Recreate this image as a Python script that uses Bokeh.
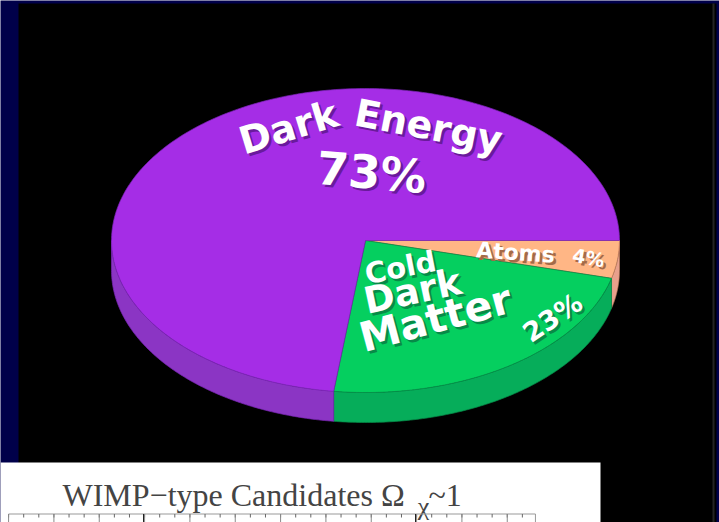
import numpy as np
from bokeh.core.properties import value
from bokeh.embed import file_html
from bokeh.models import Range1d
from bokeh.plotting import figure
from bokeh.resources import INLINE

# Composition of the universe, in percent, clockwise from the right-hand edge
slice_names = ["Atoms", "Cold Dark Matter", "Dark Energy"]
slice_shares = [4, 23, 73]
top_colors = ["#ffb685", "#05cf5f", "#a52de6"]
side_colors = ["#e8a08c", "#06ad5a", "#8b35c4"]
edge_colors = ["#b97a5c", "#068a48", "#7a25b4"]

# Logarithmic strip along the bottom panel: decades, and their subdivisions
major_ticks = [0, 1]
long_tick_step = 1 / 6
short_tick_step = 1 / 18
axis_start, axis_end = -0.496, 1.441

title_main = "WIMP\u2212type Candidates \u03a9"
title_sub = "\u03c7"
title_tail = "~1"

W, H = 719, 522
CX, CY, RX, RY, DEPTH = 365, 240, 254, 152, 30

p = figure(width=W, height=H, x_range=Range1d(0, W), y_range=Range1d(H, 0),
           output_backend="svg", toolbar_location=None, min_border=0,
           background_fill_color="#00004a", border_fill_color="#00004a",
           outline_line_color=None, x_axis_location=None, y_axis_location=None)
p.grid.visible = False

# Black slide area and its thin right-hand rule
p.quad(left=18, right=716, top=3, bottom=H, color="#000000", line_color=None)
p.quad(left=712, right=714, top=3, bottom=H, color="#242424", line_color=None)


def rim(a0, a1, n=120, dy=0.0):
    t = np.radians(np.linspace(a0, a1, n))
    return CX + RX * np.cos(t), CY + RY * np.sin(t) + dy


edges = np.concatenate([[0], np.cumsum(slice_shares)]) * 3.6

# Visible side wall of each slice (only the front half of the disc shows)
for i in range(len(slice_shares)):
    a0, a1 = edges[i], min(edges[i + 1], 180)
    if a0 >= 180:
        continue
    xt, yt = rim(a0, a1)
    xb, yb = rim(a0, a1, dy=DEPTH)
    p.patch(np.concatenate([xt, xb[::-1]]), np.concatenate([yt, yb[::-1]]),
            fill_color=side_colors[i], line_color=edge_colors[i], line_width=0.7)

# Top face of each slice
for i in range(len(slice_shares)):
    xs, ys = rim(edges[i], edges[i + 1], n=240)
    p.patch(np.concatenate([[CX], xs]), np.concatenate([[CY], ys]),
            fill_color=top_colors[i], line_color=edge_colors[i], line_width=0.7)

# Slice labels with a drop shadow: text, x, y, size, angle in degrees, shadow colour
labels = [
    ("Dark", 288, 127, 38, 17, "#6a1a9c"),
    ("Energy", 428, 126, 38, -11, "#6a1a9c"),
    ("73%", 371, 172, 46, -5, "#6a1a9c"),
    ("Cold", 400, 267, 29, 11, "#078a48"),
    ("Dark", 412, 291, 37, 12, "#078a48"),
    ("Matter", 435, 318, 41, 15, "#078a48"),
    ("23%", 552, 317, 27, 34, "#078a48"),
    ("Atoms", 515, 252, 22, -4, "#a56a48"),
    ("4%", 588, 257, 19, -10, "#a56a48"),
]
for text, x, y, size, ang, shadow in labels:
    for dx, colour in ((2.5, shadow), (0, "#ffffff")):
        p.text([x + dx], [y + dx], text=[text], angle=np.radians(ang),
               text_align="center", text_baseline="middle",
               text_font=value("DejaVu Sans"), text_font_style="bold",
               text_font_size=f"{size}px", text_color=colour)

# White panel carrying the lower plot's title and top axis
p.quad(left=0, right=600, top=462, bottom=H, color="#ffffff", line_color=None)
for text, x, y, size in ((title_main, 62, 494, 32), (title_sub, 423, 506, 26), (title_tail, 428, 494, 32)):
    p.text([x], [y], text=[text], text_align="center" if text == title_sub else "left",
           text_baseline="middle", text_font=value("Liberation Serif"),
           text_font_size=f"{size}px", text_color="#444444")

p.extra_x_ranges["strip"] = Range1d((0 - 143) / 272, (W - 143) / 272)
frame_left, frame_right = -0.496, 1.441
long_ticks = np.arange(axis_start, axis_end + 1e-6, long_tick_step)
short_ticks = np.arange(axis_start, axis_end + 1e-6, short_tick_step)
p.segment(x0=[frame_left], x1=[frame_right], y0=[513.5], y1=[513.5], x_range_name="strip",
          line_color="#9a9a9a", line_width=1.2)
p.segment(x0=[frame_right], x1=[frame_right], y0=[513.5], y1=[H], x_range_name="strip",
          line_color="#9a9a9a", line_width=1)
p.segment(x0=short_ticks, x1=short_ticks, y0=513.5, y1=517, x_range_name="strip",
          line_color="#666666", line_width=1)
p.segment(x0=long_ticks, x1=long_ticks, y0=513.5, y1=H, x_range_name="strip",
          line_color="#8a8a8a", line_width=1)
p.segment(x0=major_ticks, x1=major_ticks, y0=513.5, y1=H, x_range_name="strip",
          line_color="#222222", line_width=1)

open("out.html", "w").write(file_html(p, INLINE))
